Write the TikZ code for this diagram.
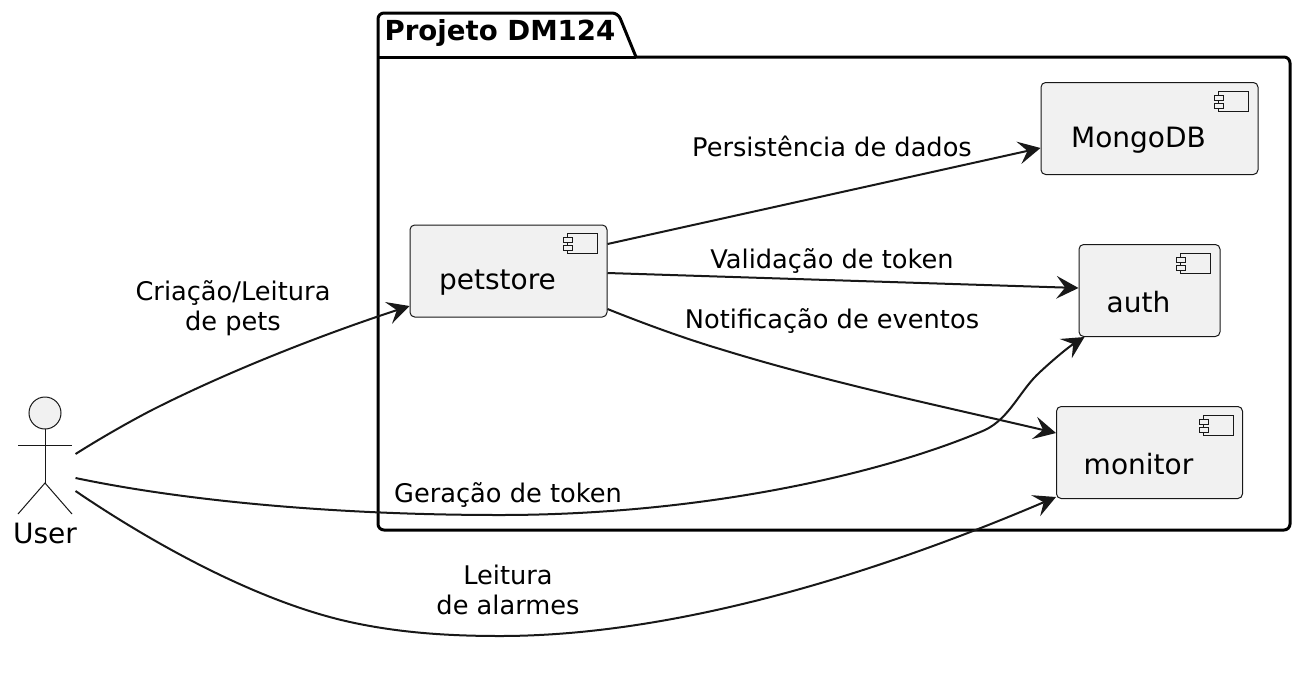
\documentclass[tikz,border=0pt]{standalone}
\usepackage{fontspec}
\setmainfont{DejaVu Sans}
\usetikzlibrary{arrows.meta, calc}
\definecolor{linha}{HTML}{181818}
\definecolor{fundo}{HTML}{F1F1F1}

\begin{document}
\begin{tikzpicture}[x=0.75pt, y=-0.75pt, thick]
        \tikzset{
            % Define standard arrow tip
            >={Stealth[length=16.5pt, width=17pt, inset=6.5pt]},
            % Define style for boxes
            caixa/.style={
                    rectangle,
                    rounded corners=3.5pt,
                    draw=linha, line width=0.75pt,
                    fill=fundo,
                    inner sep=0pt,
                    label={[nome, xshift=-8.25pt, yshift=-9pt]center:#1}},
            % Define style for the labels
            texto/.style={
                    font=\fontsize{19.25pt}{22.5pt}\selectfont,
                    text=black,
                    align=center,
                    inner sep=0pt},
            % Define style for the names
            nome/.style={
                    texto,
                    font=\fontsize{21pt}{24pt}\selectfont},
            % Define arrow style
            seta/.style={
                    ->,
                    draw=linha,
                    line width=1.5pt},
        }
        \useasboundingbox (0,0) rectangle (1302,686);

        % Draw the package
        \draw[line width=2.25pt, black, rounded corners=4.5pt, fill=white]
        (500,530) -- (378,530) -- (378,13) -- (618,13) [sharp corners] -- (636,57)
        [rounded corners=4.5pt] -- (1290,57) -- (1290,530) -- cycle;
        \draw[line width=2.25pt, black] (378,57) -- (636,57);
        \node[nome, font=\fontsize{20.7pt}{24pt}\selectfont\bfseries] (projeto) at (500,33) {Projeto DM124};

        % Draw the components
        \node[caixa=petstore, minimum width=147.75pt, minimum height=69pt] (petstore) at (508.5,271) {};
        \node[caixa=MongoDB, minimum width=162.75pt, minimum height=69pt] (mongodb) at (1149.5,128.5) {};
        \node[caixa=auth, minimum width=105.75pt, minimum height=69pt] (auth) at (1149.5,290.5) {};
        \node[caixa=monitor, minimum width=139.5pt, minimum height=69pt] (monitor) at (1149.5,452.5) {};

        % Draw the component icons
        \foreach \comp in {petstore, mongodb, auth, monitor} {
            \begin{scope}[shift={(\comp.north east)}, draw=linha, line width=0.75pt]
                \draw[fill=fundo] (-40,9) rectangle (-10,29);
                \draw[fill=fundo] (-44,13) rectangle (-35,18);
                \draw[fill=fundo] (-44,21) rectangle (-35,26);
            \end{scope}
        }

        % Draw the actor
        \node[minimum width=45pt, minimum height=88.5pt, inner sep=0pt] (user) at (45,456) {};
        \begin{scope}[shift={(user)}, draw=linha, line width=0.75pt]
            \draw[fill=fundo] (0,-43) circle (12pt);
            \draw (0,-27) -- (0,27);
            \draw (-27,-11) -- (27,-11);
            \draw (-27,58) -- (0,27) -- (27,58);
        \end{scope}
        \node[nome] (userlabel) at (45,533) {User};

        % Connect the nodes with arrows
        \draw[seta] ($(user.east)+(0,-2)$) .. controls (96,441) and (125,424) .. (152,410)
        .. controls (235,368) and (330,332) .. ($(petstore.west)+(0,35)$);
        \draw[seta] ($(user.east)+(0,22)$) .. controls (180,500) and (330,515) .. (500,515)
        .. controls (700,515) and (880,475) .. (985,430)
        .. controls (1010,418) and (1020,390) .. (1040,372)
        .. controls (1055,358) and (1070,346) .. ($(auth.south west)+(6,0)$);
        \draw[seta] ($(user.east)+(0,35)$) .. controls (140,535) and (250,600) .. (350,622)
        .. controls (400,633) and (450,636) .. (500,636)
        .. controls (700,636) and (920,555) .. ($(monitor.west)+(0,44.5)$);
        \draw[seta] ($(petstore.east)+(0,-27)$) -- ($(mongodb.west)+(0,19.5)$);
        \draw[seta] ($(petstore.east)+(0,2)$) -- ($(auth.west)+(0,-2.5)$);
        \draw[seta] ($(petstore.east)+(0,38)$) .. controls (640,322) and (680,337) .. (720,349)
        .. controls (830,383) and (950,408) .. ($(monitor.west)+(0,-19.5)$);

        % Draw the connector labels
        \node[texto] (criacao) at (233,308) {Criação/Leitura\\de pets};
        \node[texto] (persistencia) at (832,146) {Persistência de dados};
        \node[texto] (validacao) at (832,261) {Validação de token};
        \node[texto] (notificacao) at (832,321) {Notificação de eventos};
        \node[texto] (geracao) at (508,495) {Geração de token};
        \node[texto] (leitura) at (508,590) {Leitura\\de alarmes};
\end{tikzpicture}
\end{document}
